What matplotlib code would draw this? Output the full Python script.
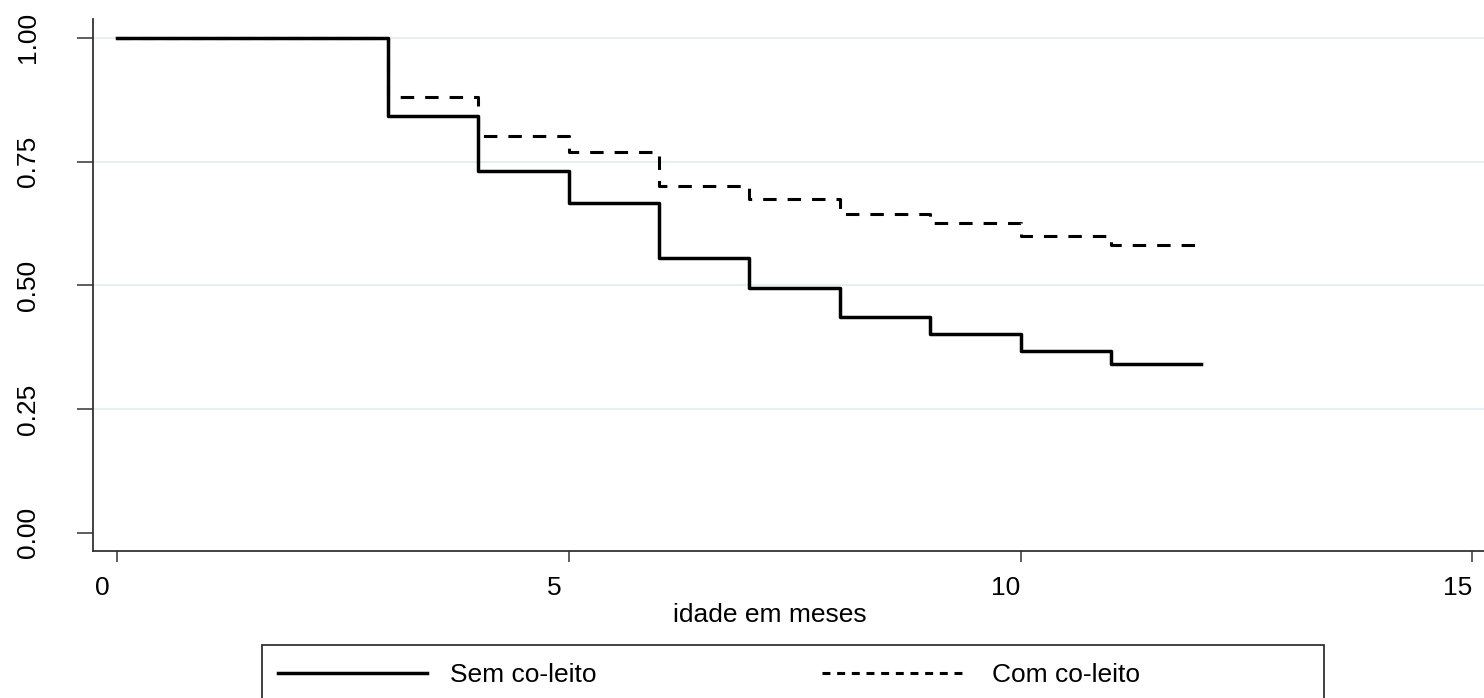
import matplotlib
matplotlib.use("Agg")
import matplotlib.pyplot as plt
import matplotlib.transforms as mtransforms
from matplotlib.lines import Line2D
from matplotlib.patches import Rectangle

plt.rcParams['font.family'] = ['Liberation Sans', 'DejaVu Sans']

# Kaplan-Meier estimates
meses = [0, 3, 4, 5, 6, 7, 8, 9, 10, 11, 12]
sem_coleito = [1.0, 0.843, 0.730, 0.667, 0.556, 0.494, 0.436, 0.402, 0.367, 0.340, 0.340]
com_coleito = [1.0, 0.880, 0.801, 0.769, 0.701, 0.675, 0.643, 0.625, 0.600, 0.582, 0.582]

xticks = [0, 5, 10, 15]
yticks = [0.0, 0.25, 0.5, 0.75, 1.0]
ytick_labels = ["0.00", "0.25", "0.50", "0.75", "1.00"]
labels = ["Sem co-leito", "Com co-leito"]

W, H = 1484, 698
fig = plt.figure(figsize=(W / 100, H / 100), dpi=100)


def fx(px):
    return px / W


def fy(py):
    # pixel rows counted from the top
    return 1 - py / H


ax = fig.add_axes([fx(93), fy(551), 1 - fx(93), fy(19) - fy(551)])

# grid lines (none at zero)
for yv in yticks[1:]:
    ax.axhline(yv, color='#e6eff1', lw=1.4, zorder=0)

ax.step(meses, sem_coleito, where='post', color='black', lw=2.5, zorder=3)
ax.step(meses, com_coleito, where='post', color='black', lw=2.2,
        dashes=(4.4, 3.6), zorder=2)

ax.set_xlim(-0.266, 15.13)
ax.set_ylim(-0.037, 1.038)

ax.set_xticks(xticks)
ax.set_yticks(yticks)
ax.set_yticklabels(ytick_labels, rotation=90, va='center')

for s in ['top', 'right']:
    ax.spines[s].set_visible(False)
for s in ['left', 'bottom']:
    ax.spines[s].set_color('#333333')
    ax.spines[s].set_linewidth(1.3)

ax.tick_params(axis='x', length=8, width=1.1, color='#333333', pad=10,
               labelsize=19)
ax.tick_params(axis='y', length=11.5, width=1.1, color='#333333', pad=27,
               labelsize=19)

# x tick labels sit a bit left of their ticks in the original
shift = mtransforms.ScaledTranslation(-15 / 100, 0, fig.dpi_scale_trans)
for lab in ax.get_xticklabels():
    lab.set_transform(lab.get_transform() + shift)

ax.set_xlabel("idade em meses", fontsize=19)
ax.xaxis.set_label_coords((770 - 93) / (W - 93), -(615 - 551) / (551 - 19))
ax.xaxis.label.set_va('center')

# legend box, drawn by hand
fig.add_artist(Rectangle((fx(262), fy(720)), fx(1324) - fx(262), fy(645) - fy(720),
                         transform=fig.transFigure, facecolor='white',
                         edgecolor='#333333', lw=1.3))
fig.add_artist(Line2D([fx(278), fx(427)], [fy(673), fy(673)],
                      transform=fig.transFigure, color='black', lw=2.5))
fig.add_artist(Line2D([fx(822), fx(968)], [fy(673), fy(673)],
                      transform=fig.transFigure, color='black', lw=2.2,
                      dashes=(2.6, 2.2)))
fig.text(fx(450), fy(675), labels[0], fontsize=19, va='center', ha='left')
fig.text(fx(992), fy(675), labels[1], fontsize=19, va='center', ha='left')

fig.savefig("out.png", dpi=100)
